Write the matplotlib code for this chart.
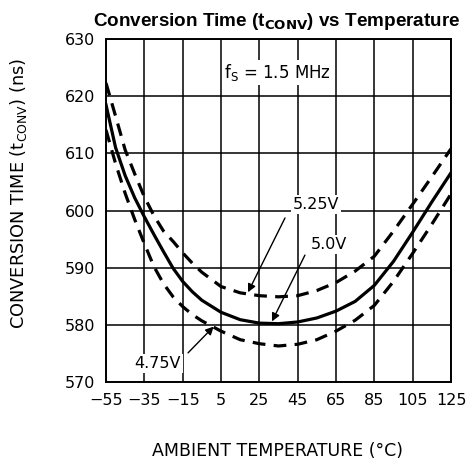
import numpy as np
import matplotlib
matplotlib.use("Agg")
import matplotlib.pyplot as plt

# temperature (C) and conversion time (ns)
temp = [-55, -50, -45, -40, -35, -30, -25, -20, -15, -10, -5, 5, 15, 25, 35, 45, 55, 65, 75, 85, 95, 105, 115, 125]
t_500 = [618.5, 611.0, 606.1, 602.2, 598.9, 595.8, 592.8, 589.9, 587.6, 585.8, 584.3, 582.2, 580.9, 580.3,
         580.2, 580.5, 581.2, 582.4, 584.1, 586.9, 591.1, 596.2, 601.5, 606.6]
t_525 = [622.3, 616.5, 610.6, 606.4, 602.4, 599.1, 596.4, 594.6, 592.6, 590.8, 589.2, 586.7, 585.6, 585.1,
         584.9, 585.1, 586.0, 587.4, 589.4, 592.0, 596.4, 601.1, 605.9, 610.8]
t_475 = [614.1, 608.2, 603.0, 598.4, 594.2, 590.2, 587.2, 584.9, 583.2, 581.8, 580.7, 578.9, 577.4, 576.7,
         576.3, 576.6, 577.4, 578.9, 580.8, 583.4, 587.6, 592.5, 597.6, 602.9]

xticks = [-55, -35, -15, 5, 25, 45, 65, 85, 105, 125]
yticks = [570, 580, 590, 600, 610, 620, 630]

plt.rcParams['font.family'] = 'DejaVu Sans'
plt.rcParams['mathtext.fontset'] = 'dejavusans'

fig = plt.figure(figsize=(4.72, 4.69), dpi=100)
ax = fig.add_axes([106/472, 1-382/469, 345/472, 343/469])

ax.plot(temp, t_525, color='black', lw=2.3, dashes=(4, 2.6), zorder=3)
ax.plot(temp, t_500, color='black', lw=2.3, zorder=3)
ax.plot(temp, t_475, color='black', lw=2.3, dashes=(4, 2.6), zorder=3)

ax.set_xlim(-55, 125)
ax.set_ylim(570, 630)
ax.set_xticks(xticks)
ax.set_yticks(yticks)
ax.set_xticklabels(['\u221255', '\u221235', '\u221215', '5', '25', '45', '65', '85', '105', '125'])
ax.tick_params(length=0, labelsize=11.5, pad=8)
ax.grid(True, color='black', lw=1.1)
for s in ax.spines.values():
    s.set_linewidth(1.4)

box = dict(facecolor='white', edgecolor='none', pad=1.5)
ax.text(6.6, 624.1, r'f$_\mathregular{S}$ = 1.5 MHz', fontsize=12, ha='left', va='center', bbox=box, zorder=4)
ax.text(54.6, 601.1, '5.25V', fontsize=11.5, ha='center', va='center', bbox=box, zorder=4)
ax.text(61.3, 594.0, '5.0V', fontsize=11.5, ha='center', va='center', bbox=box, zorder=4)
ax.text(-27.9, 573.3, '4.75V', fontsize=11.5, ha='center', va='center', bbox=box, zorder=4)

arrow = dict(arrowstyle='-|>', color='black', lw=1.0, mutation_scale=12, shrinkA=0, shrinkB=0)
ax.annotate('', xy=(19.1, 585.7), xytext=(38.4, 598.7), arrowprops=arrow, zorder=5)
ax.annotate('', xy=(31.6, 580.6), xytext=(48.8, 592.2), arrowprops=arrow, zorder=5)
ax.annotate('', xy=(1.2, 579.7), xytext=(-12.2, 575.1), arrowprops=arrow, zorder=5)

fig.text(0.586, 1-22/469, r'Conversion Time (t$_\mathbf{CONV}$) vs Temperature',
         family='Liberation Sans', fontweight='bold', fontsize=13.6, ha='center', va='center')
fig.text(278/472, 1-451/469, 'AMBIENT TEMPERATURE (\u00b0C)', fontsize=12.5, ha='center', va='center')
fig.text(19/472, 1-193/469, r'CONVERSION TIME (t$_\mathregular{CONV}$) (ns)', fontsize=12.8,
         ha='center', va='center', rotation=90)

fig.savefig('out.png', dpi=100)
